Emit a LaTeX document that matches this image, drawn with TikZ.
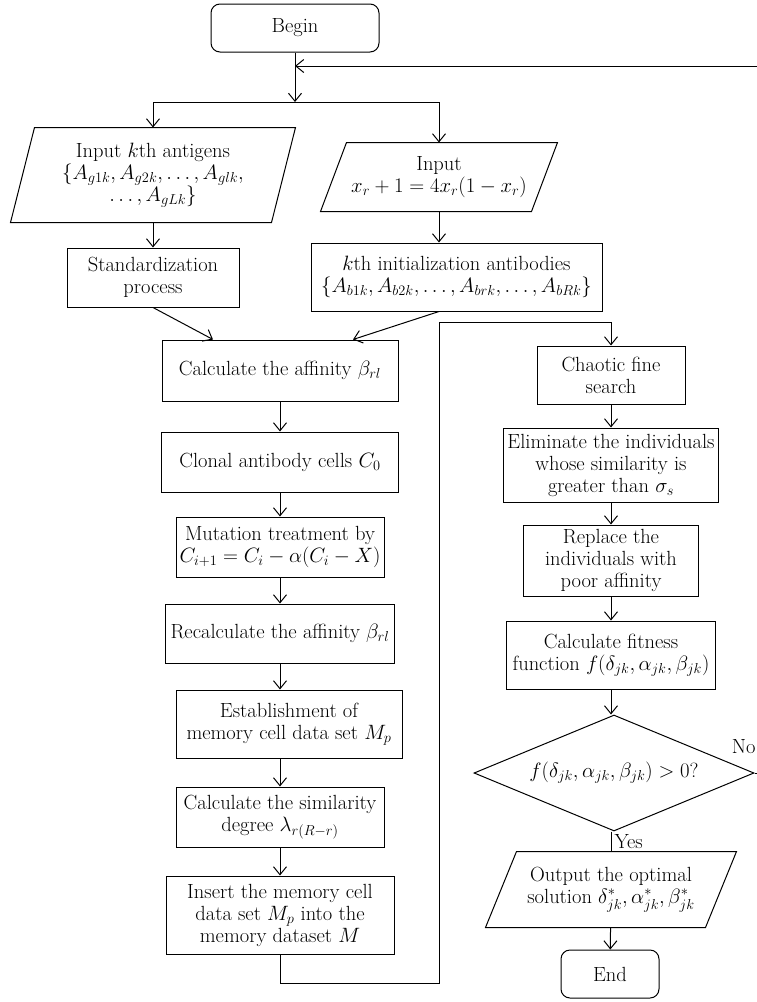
\documentclass[tikz,border=0pt]{standalone}
\usepackage{amsmath,amssymb}
\usepackage{tikz}
\usetikzlibrary{shapes.geometric,arrows.meta,positioning}

\begin{document}
\begin{tikzpicture}[
    x=1pt, y=1pt,
    font=\fontsize{20.5}{22}\selectfont,
    line width=1pt,
    box/.style={draw, rectangle, align=center, inner sep=2pt},
    term/.style={draw, rectangle, rounded corners=9pt, minimum width=168pt, minimum height=48pt},
    io/.style={rectangle, align=center, inner sep=1pt},
    decision/.style={draw, diamond, aspect=2.4, inner sep=0pt},
    arrow/.style={-{Straight Barb[length=8pt,width=13pt]}}
]
    \useasboundingbox (0,0) rectangle (757,-1002);

    \node[term] (begin) at (295,-28) {Begin};
    \coordinate (loop) at (295,-66);
    \coordinate (split) at (295,-102);

    \node[io, minimum width=260pt, minimum height=94pt] (ant) at (153,-175)
        {Input $k$th antigens\\ $\{A_{g1k}, A_{g2k}, \ldots, A_{glk},$\\ $\ldots, A_{gLk}\}$};
    \node[io, minimum width=210pt, minimum height=68pt] (logi) at (439,-177)
        {Input\\ $x_r + 1 = 4x_r(1 - x_r)$};
    \node[box, minimum width=172pt, minimum height=59pt] (std) at (153,-277.5) {Standardization\\ process};
    \node[box, minimum width=291pt, minimum height=68pt] (init) at (456.5,-277)
        {$k$th initialization antibodies\\ $\{A_{b1k}, A_{b2k}, \ldots, A_{brk}, \ldots, A_{bRk}\}$};

    \node[box, minimum width=236pt, minimum height=61pt] (aff) at (280,-370.5) {Calculate the affinity $\beta_{rl}$};
    \node[box, minimum width=237pt, minimum height=60pt] (clon) at (280,-462) {Clonal antibody cells $C_0$};
    \node[box, minimum width=208pt, minimum height=60pt] (mut) at (280,-547)
        {Mutation treatment by\\ $C_{i+1} = C_i - \alpha(C_i - X)$};
    \node[box, minimum width=229pt, minimum height=59pt] (reaff) at (280,-633.5) {Recalculate the affinity $\beta_{rl}$};
    \node[box, minimum width=226pt, minimum height=68pt] (mem) at (289,-724) {Establishment of\\ memory cell data set $M_p$};
    \node[box, minimum width=208pt, minimum height=60pt] (simil) at (280,-817) {Calculate the similarity\\ degree $\lambda_{r(R-r)}$};
    \node[box, minimum width=228pt, minimum height=78pt] (insert) at (280,-915)
        {Insert the memory cell\\ data set $M_p$ into the\\ memory dataset $M$};
    \coordinate (turn1) at (439,-983);
    \coordinate (turn2) at (439,-322);

    \node[box, minimum width=148pt, minimum height=58pt] (chaos) at (611,-375) {Chaotic fine\\ search};
    \node[box, minimum width=215pt, minimum height=74pt] (elim) at (611,-465)
        {Eliminate the individuals\\ whose similarity is\\ greater than $\sigma_s$};
    \node[box, minimum width=175pt, minimum height=71pt] (repl) at (611,-560.5) {Replace the\\ individuals with\\ poor affinity};
    \node[box, minimum width=209pt, minimum height=68pt] (fit) at (611,-655)
        {Calculate fitness\\ function $f(\delta_{jk}, \alpha_{jk}, \beta_{jk})$};
    \node[decision, minimum width=280pt, minimum height=116pt] (cond) at (614,-773)
        {$f(\delta_{jk}, \alpha_{jk}, \beta_{jk}) > 0$?};
    \node[anchor=east, inner sep=0pt] (no) at (756,-747) {No};
    \node[anchor=west, inner sep=0pt] (yes) at (614,-842) {Yes};
    \node[io, minimum width=219pt, minimum height=75pt] (outp) at (611,-889.5)
        {Output the optimal\\ solution $\delta^*_{jk}, \alpha^*_{jk}, \beta^*_{jk}$};
    \node[term, minimum width=98pt] (stop) at (610,-974) {End};

    \foreach \n/\s in {ant/12pt, logi/13pt, outp/15.5pt}
        \draw ([xshift=\s]\n.north west) -- ([xshift=\s]\n.north east)
           -- ([xshift=-\s]\n.south east) -- ([xshift=-\s]\n.south west) -- cycle;

    \draw[arrow] (begin) -- (split);
    \draw[arrow] (cond.east) -- ++(8pt,0) |- (loop);
    \draw[arrow] (split) -| (ant);
    \draw[arrow] (split) -| (logi);
    \draw[arrow] (ant) -- (std);
    \draw[arrow] (logi) -- (logi |- init.north);
    \draw[arrow] (std.south) -- ([xshift=-67pt]aff.north);
    \draw[arrow] (logi.south |- init.south) -- ([xshift=73pt]aff.north);

    \foreach \a/\b in {aff/clon, clon/mut, mut/reaff, simil/insert}
        \draw[arrow] (\a) -- (\b);
    \draw[arrow] (reaff.south) -- (reaff.south |- mem.north);
    \draw[arrow] (simil.north |- mem.south) -- (simil.north);
    \draw[arrow] (insert.south) |- (turn1) -- (turn2) -| (chaos.north);

    \foreach \a/\b in {chaos/elim, elim/repl, repl/fit, outp/stop}
        \draw[arrow] (\a) -- (\b);
    \draw[arrow] (fit.south) -- (fit.south |- cond.north);
    \draw (outp.north |- cond.south) -- (outp.north);
\end{tikzpicture}
\end{document}
